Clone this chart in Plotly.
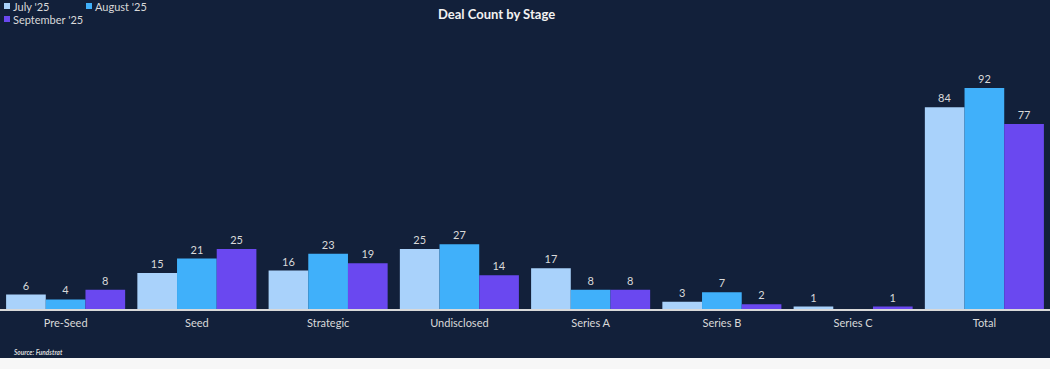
import plotly.graph_objects as go

categories = ["Pre-Seed", "Seed", "Strategic", "Undisclosed", "Series A", "Series B", "Series C", "Total"]
july = [6, 15, 16, 25, 17, 3, 1, 84]
august = [4, 21, 23, 27, 8, 7, 0, 92]
september = [8, 25, 19, 14, 8, 2, 1, 77]
series_names = ["July '25", "August '25", "September '25"]
colors = ["#A9D2FB", "#40B0FA", "#6A48F0"]

BG = "#12203A"
TXT = "#D9D9D9"
FONT = "Lato"

W, H = 1050, 369
TOP, BOTTOM = 40, 309  # plot area in pixels
PH = BOTTOM - TOP


def py(ypx):
    return (BOTTOM - ypx) / PH


def px(xpx):
    return xpx / W


fig = go.Figure()
for name, vals, col in zip(series_names, [july, august, september], colors):
    fig.add_trace(go.Bar(
        x=categories, y=vals, name=name,
        marker=dict(color=col, line=dict(width=0)),
        text=[str(v) if v else "" for v in vals],
        textposition="outside",
        textfont=dict(color=TXT, size=11, family=FONT),
        cliponaxis=False,
        showlegend=False,
        hoverinfo="skip",
    ))

annotations = [
    dict(text="<b>Deal Count by Stage</b>", x=px(496), y=py(14), xref="paper", yref="paper",
         xanchor="center", yanchor="middle", showarrow=False,
         font=dict(size=13, color="#F2F2F2", family=FONT)),
    dict(text="<b><i>Source: Fundstrat</i></b>", x=px(11), y=py(352), xref="paper", yref="paper",
         xanchor="left", yanchor="middle", showarrow=False,
         font=dict(size=6.5, color=TXT, family=FONT)),
]
shapes = [
    dict(type="rect", xref="paper", yref="paper", x0=0, x1=1, y0=py(369), y1=py(358),
         fillcolor="#F7F7F7", line=dict(width=0), layer="above"),
]

legend_pos = [(4, 6), (86, 6), (4, 19)]
for (lx, ly), name, col in zip(legend_pos, series_names, colors):
    shapes.append(dict(type="rect", xref="paper", yref="paper",
                       x0=px(lx), x1=px(lx + 6), y0=py(ly + 3), y1=py(ly - 3),
                       fillcolor=col, line=dict(width=0)))
    annotations.append(dict(text=name, x=px(lx + 7), y=py(ly), xref="paper", yref="paper",
                            xanchor="left", yanchor="middle", showarrow=False,
                            font=dict(size=11, color=TXT, family=FONT)))

fig.update_layout(
    width=W, height=H,
    paper_bgcolor=BG, plot_bgcolor=BG,
    margin=dict(l=0, r=0, t=TOP, b=H - BOTTOM, pad=0),
    barmode="group", bargap=0.093, bargroupgap=0,
    font=dict(family=FONT, color=TXT, size=11),
    xaxis=dict(showline=True, linecolor="#D9D9D9", linewidth=2, ticks="",
               showgrid=False, zeroline=False, tickfont=dict(size=11, color=TXT, family=FONT),
               ticklabelstandoff=3),
    yaxis=dict(range=[0, 92 * PH / 221], visible=False, showgrid=False, zeroline=False),
    annotations=annotations,
    shapes=shapes,
)

fig.write_html("out.html", config={"displayModeBar": False},
               post_script="document.body.style.margin='0';document.body.style.overflow='hidden';")
